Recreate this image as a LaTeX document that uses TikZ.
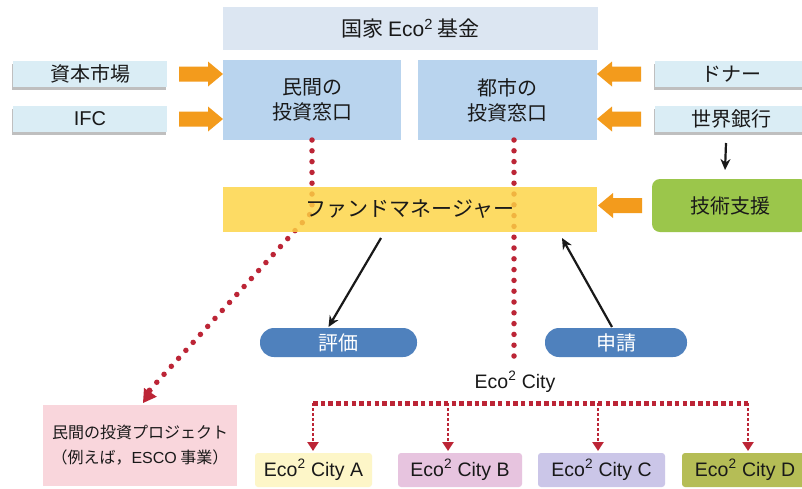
\documentclass[tikz,border=0pt]{standalone}
\usepackage{fontspec}
\setmainfont{Noto Sans CJK JP}
\newfontfamily\lat{Liberation Sans}
\usetikzlibrary{arrows.meta,shadows}
\definecolor{topcol}{HTML}{DCE6F2}
\definecolor{wincol}{HTML}{B9D4EE}
\definecolor{sidecol}{HTML}{DAEDF5}
\definecolor{arrcol}{HTML}{F39B1C}
\definecolor{fmcol}{HTML}{FDD443}
\definecolor{techcol}{HTML}{9BC64B}
\definecolor{ellcol}{HTML}{4F81BD}
\definecolor{projcol}{HTML}{F9D6DC}
\definecolor{ccA}{HTML}{FDF6C8}
\definecolor{ccB}{HTML}{E7C4DF}
\definecolor{ccC}{HTML}{CBC6E8}
\definecolor{ccD}{HTML}{B5BD56}
\definecolor{dotcol}{HTML}{BC2536}
\newcommand\fs[2]{\fontsize{#1}{#2}\selectfont}
\newcommand\ecosq{{\lat Eco\textsuperscript{2}}}
\newcommand\rblock[1]{\fill[arrcol] (#1) -- ++(-15,-12.5) -- ++(0,5) -- ++(-29,0) -- ++(0,15) -- ++(29,0) -- ++(0,5) -- cycle;}
\newcommand\lblock[1]{\fill[arrcol] (#1) -- ++(15,-12.5) -- ++(0,5) -- ++(29,0) -- ++(0,15) -- ++(-29,0) -- ++(0,5) -- cycle;}
\tikzset{
  plain/.style={inner sep=0pt, outer sep=0pt, text=black!90},
  sidebox/.style={plain, fill=sidecol, minimum height=26, font=\fs{20}{24},
     general shadow={fill=black!25, shadow xshift=-1.5pt, shadow yshift=-2.5pt}},
  winbox/.style={plain, fill=wincol, minimum width=178, minimum height=80, align=center, font=\fs{20}{25}},
  pill/.style={plain, fill=ellcol, rounded corners=14pt, minimum height=29, text=white, font=\fs{20}{24}},
  citybox/.style={plain, rounded corners=3pt, minimum height=34, font=\lat\fs{19.5}{24}},
  bigdots/.style={draw=dotcol, line width=5.5pt, line cap=round, dash pattern=on 0pt off 10.8pt},
  hdots/.style={draw=dotcol, line width=5pt, dash pattern=on 4.5pt off 3.2pt},
  smalldots/.style={draw=dotcol, line width=2.8pt, dash pattern=on 2.5pt off 2.5pt,
     -{Triangle[length=9pt,width=11pt]}},
  blk/.style={draw=black!90, line width=2.2pt, -{Stealth[length=11pt,width=10pt]}},
}
\begin{document}
\begin{tikzpicture}[x=1pt,y=-1pt]
\useasboundingbox (0,0) rectangle (802,488);
\fill[white] (0,0) rectangle (802,488);

% top boxes
\node[plain, fill=topcol, minimum width=375, minimum height=43, font=\fs{21}{24}] (fund) at (410.5,28.5) {国家 \ecosq\ 基金};
\node[winbox] (pri) at (312,100) {民間の\\投資窓口};
\node[winbox, minimum width=179] (city) at (507.5,100) {都市の\\投資窓口};

% side boxes
\node[sidebox, minimum width=154] (smk) at (90,74) {資本市場};
\node[sidebox, minimum width=154] (ifc) at (90,119) {{\lat IFC}};
\node[sidebox, minimum width=152] (don) at (731,74) {ドナー};
\node[sidebox, minimum width=152] (wb) at (731,119) {世界銀行};
\node[plain, fill=techcol, rounded corners=8pt, minimum width=156, minimum height=53, font=\fs{20}{24}] (tech) at (730,205.5) {技術支援};

% dotted lines (under the fund manager box)
\coordinate (lb) at (312,212);
\coordinate (mt) at (514,140);
\node[plain, font=\lat\fs{19.5}{24}] (lbl) at (515,382) {Eco\textsuperscript{2} City};
\draw[bigdots] (pri.south) -- (lb) -- (147,393);
\draw[bigdots] (mt) -- ([yshift=6pt]lbl.north -| mt);

% fund manager
\node[plain, fill=fmcol, fill opacity=0.82, text opacity=1, minimum width=374, minimum height=45, font=\fs{21}{24}] (fm) at (410,209.5) {ファンドマネージャー};

% private project box and arrowhead of the diagonal dotted line
\node[plain, fill=projcol, minimum width=194, minimum height=81, align=center, font=\fs{16}{25}] (proj) at (140,445.5) {民間の投資プロジェクト\\（例えば，{\lat ESCO} 事業）};
\draw[draw=dotcol, line width=2pt, -{Triangle[length=13pt,width=15pt]}] (152,390) -- ([xshift=3pt,yshift=2pt]proj.north);

% orange block arrows
\rblock{pri.west|-smk}
\rblock{pri.west|-ifc}
\lblock{city.east|-don}
\lblock{city.east|-wb}
\lblock{[xshift=1pt]fm.east|-tech}

% World bank -> technical support
\draw[blk] ([xshift=-5pt,yshift=-11pt]wb.south) -- ([xshift=-5pt,yshift=9pt]tech.north);

% evaluation / application
\node[pill, minimum width=157] (ev) at (338.5,342.5) {評価};
\node[pill, minimum width=142] (ap) at (616,342.5) {申請};
\draw[blk] ([xshift=-29pt,yshift=-6pt]fm.south) -- ([xshift=-10pt,yshift=1pt]ev.north);
\draw[blk] ([xshift=-4pt,yshift=1pt]ap.north) -- ([xshift=152pt,yshift=-6pt]fm.south);

% cities
\node[citybox, fill=ccA, minimum width=117] (cA) at (313.5,470) {Eco\textsuperscript{2} City A};
\node[citybox, fill=ccB, minimum width=124] (cB) at (460,470) {Eco\textsuperscript{2} City B};
\node[citybox, fill=ccC, minimum width=127] (cC) at (601.5,470) {Eco\textsuperscript{2} City C};
\node[citybox, fill=ccD, minimum width=126] (cD) at (745,470) {Eco\textsuperscript{2} City D};

\coordinate (hA) at (313,403);
\coordinate (hB) at (448,403);
\coordinate (hC) at (598,403);
\coordinate (hD) at (748,403);
\draw[hdots] (hA) -- (hD);
\draw[smalldots] (hA) -- ([yshift=2pt]hA |- cA.north);
\draw[smalldots] (hB) -- ([yshift=2pt]hB |- cB.north);
\draw[smalldots] (hC) -- ([yshift=2pt]hC |- cC.north);
\draw[smalldots] (hD) -- ([yshift=2pt]hD |- cD.north);
\end{tikzpicture}
\end{document}
